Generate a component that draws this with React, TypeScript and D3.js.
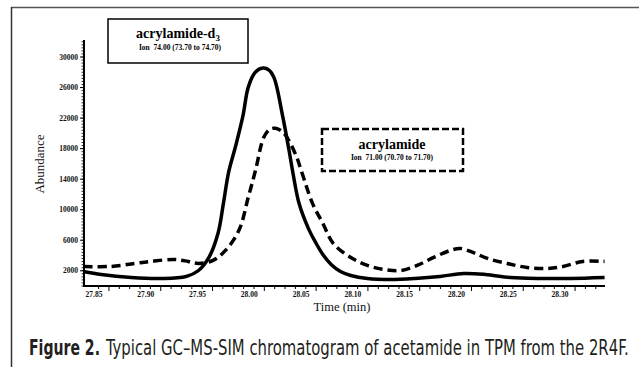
// Chromatogram: acrylamide-d3 (solid) vs acrylamide (dashed), GC–MS-SIM
import { useLayoutEffect, useRef, useState } from "react"
import * as d3 from "d3"

const W = 639
const H = 367

// retention time (min) / abundance
const d3Times = [27.840, 27.857, 27.886, 27.915, 27.939, 27.951, 27.961, 27.970, 27.975, 27.980, 27.987, 27.994, 27.999, 28.006, 28.013, 28.019, 28.024, 28.032, 28.038, 28.042, 28.048, 28.057, 28.064, 28.071, 28.079, 28.088, 28.098, 28.114, 28.136, 28.160, 28.184, 28.207, 28.228, 28.252, 28.281, 28.310, 28.343]
const d3Values = [1900, 1510, 1115, 985, 1250, 2030, 3740, 7020, 10830, 14900, 18440, 22380, 26060, 28030, 28550, 28290, 27240, 22380, 18050, 14900, 10830, 7550, 5710, 4130, 2820, 1900, 1380, 985, 850, 985, 1250, 1640, 1510, 1115, 985, 985, 1115]

const acTimes = [27.840, 27.866, 27.889, 27.905, 27.927, 27.941, 27.951, 27.965, 27.977, 27.990, 27.999, 28.006, 28.014, 28.020, 28.025, 28.030, 28.035, 28.045, 28.051, 28.061, 28.071, 28.081, 28.098, 28.114, 28.130, 28.146, 28.162, 28.178, 28.194, 28.204, 28.216, 28.230, 28.249, 28.268, 28.288, 28.303, 28.322, 28.343]
const acValues = [2560, 2560, 2950, 3220, 3480, 3220, 2950, 3350, 4660, 7290, 11620, 15160, 19490, 20540, 20670, 20410, 19760, 17130, 14770, 10830, 8200, 5580, 3740, 2690, 2170, 2030, 2690, 3740, 4660, 4920, 4400, 3610, 2950, 2430, 2300, 2560, 3220, 3220]

const xTicks = [27.85, 27.90, 27.95, 28.00, 28.05, 28.10, 28.15, 28.20, 28.25, 28.30]
const yTicks = [2000, 6000, 10000, 14000, 18000, 22000, 26000, 30000]

const serif = "'Liberation Serif', 'DejaVu Serif', serif"
const captionFont = "'Liberation Sans Narrow', 'DejaVu Sans Condensed', 'Open Sans', sans-serif"

// caption text squeezed horizontally to a target width (condensed face look)
function Squeezed({ x, y, width, bold, children }: { x: number; y: number; width: number; bold?: boolean; children: string }) {
  const ref = useRef<SVGTextElement>(null)
  const [sx, setSx] = useState(1)
  useLayoutEffect(() => {
    if (!ref.current) return
    const len = ref.current.getComputedTextLength()
    if (len > 0) setSx(width / len)
  }, [width, children])
  return (
    <text ref={ref} transform={`translate(${x},${y}) scale(${sx},1)`} fontFamily={captionFont} fontWeight={bold ? "bold" : "normal"} fontSize={22} fill="#231f20">{children}</text>
  )
}

export default function App() {
  const x = d3.scaleLinear().domain([27.8404, 28.3434]).range([84, 605])
  const y = d3.scaleLinear().domain([0, 32230]).range([286, 40])

  const line = d3.line<[number, number]>()
    .x(d => x(d[0]))
    .y(d => y(d[1]))
    .curve(d3.curveCatmullRom.alpha(0.5))

  const solidPts = d3Times.map((t, i) => [t, d3Values[i]] as [number, number])
  const dashPts = acTimes.map((t, i) => [t, acValues[i]] as [number, number])

  // instrument draws its major tick marks a bit right of the labels
  const tickShift = 0.0145
  const minorX = d3.range(-1, 50).map(k => 27.85 + tickShift + k * 0.01).filter(t => x(t) >= 84 && x(t) <= 605)
  const minorY = d3.range(0, 32200, 400)

  const y0 = y(0)

  return (
    <svg width={W} height={H} style={{ position: "absolute", left: 0, top: 0, background: "#fff" }}>
      {/* frame */}
      <line x1={11} x2={W} y1={7.5} y2={7.5} stroke="#555" strokeWidth={1.5} />
      <line x1={11.5} x2={11.5} y1={7} y2={H} stroke="#333" strokeWidth={1.5} />

      {/* y axis */}
      <line x1={84} x2={84} y1={40} y2={y0} stroke="#000" strokeWidth={2} />
      {minorY.map(v => (
        <line key={"ym" + v} x1={81.5} x2={84} y1={y(v)} y2={y(v)} stroke="#000" strokeWidth={0.8} />
      ))}
      {yTicks.map(v => (
        <g key={"y" + v}>
          <line x1={80} x2={84} y1={y(v)} y2={y(v)} stroke="#000" strokeWidth={1} />
          <text x={78} y={y(v) + 2.5} textAnchor="end" fontFamily={serif} fontWeight="bold" fontSize={7.5} fill="#111">{v}</text>
        </g>
      ))}

      {/* x axis */}
      <line x1={83} x2={605} y1={y0} y2={y0} stroke="#000" strokeWidth={2} />
      {minorX.map((t, i) => (
        <line key={"xm" + i} x1={x(t)} x2={x(t)} y1={y0} y2={y0 + (i % 5 === 1 ? 5 : 3)} stroke="#000" strokeWidth={1} />
      ))}
      {xTicks.map(t => (
        <text key={"x" + t} x={x(t)} y={297} textAnchor="middle" fontFamily={serif} fontWeight="bold" fontSize={7.5} fill="#111">{t.toFixed(2)}</text>
      ))}

      {/* traces */}
      <path d={line(dashPts) || ""} fill="none" stroke="#000" strokeWidth={3.5} strokeDasharray="9,5" />
      <path d={line(solidPts) || ""} fill="none" stroke="#000" strokeWidth={3.5} strokeLinejoin="round" />

      {/* axis titles */}
      <text transform="translate(44,164) rotate(-90)" textAnchor="middle" fontFamily={serif} fontSize={13} fill="#111">Abundance</text>
      <text x={342} y={311} textAnchor="middle" fontFamily={serif} fontSize={12.5} fill="#111">Time (min)</text>

      {/* legend: acrylamide-d3 */}
      <rect x={108} y={19} width={140} height={44} fill="#fff" stroke="#000" strokeWidth={1.5} />
      <text x={178} y={38} textAnchor="middle" fontFamily={serif} fontWeight="bold" fontSize={14} fill="#000">
        acrylamide-d<tspan fontSize={9} dy={3}>3</tspan>
      </text>
      <text x={180} y={50} textAnchor="middle" fontFamily={serif} fontWeight="bold" fontSize={7.5} fill="#000" xmlSpace="preserve">Ion  74.00 (73.70 to 74.70)</text>

      {/* legend: acrylamide */}
      <rect x={322} y={129} width={141} height={42} fill="#fff" stroke="#000" strokeWidth={2.5} strokeDasharray="7,3" />
      <text x={392} y={149} textAnchor="middle" fontFamily={serif} fontWeight="bold" fontSize={14} fill="#000">acrylamide</text>
      <text x={392} y={160} textAnchor="middle" fontFamily={serif} fontWeight="bold" fontSize={7.5} fill="#000" xmlSpace="preserve">Ion  71.00 (70.70 to 71.70)</text>

      {/* caption */}
      <Squeezed x={29} y={355} width={71} bold>Figure 2.</Squeezed>
      <Squeezed x={106} y={355} width={523}>Typical GC–MS-SIM chromatogram of acetamide in TPM from the 2R4F.</Squeezed>
    </svg>
  )
}
